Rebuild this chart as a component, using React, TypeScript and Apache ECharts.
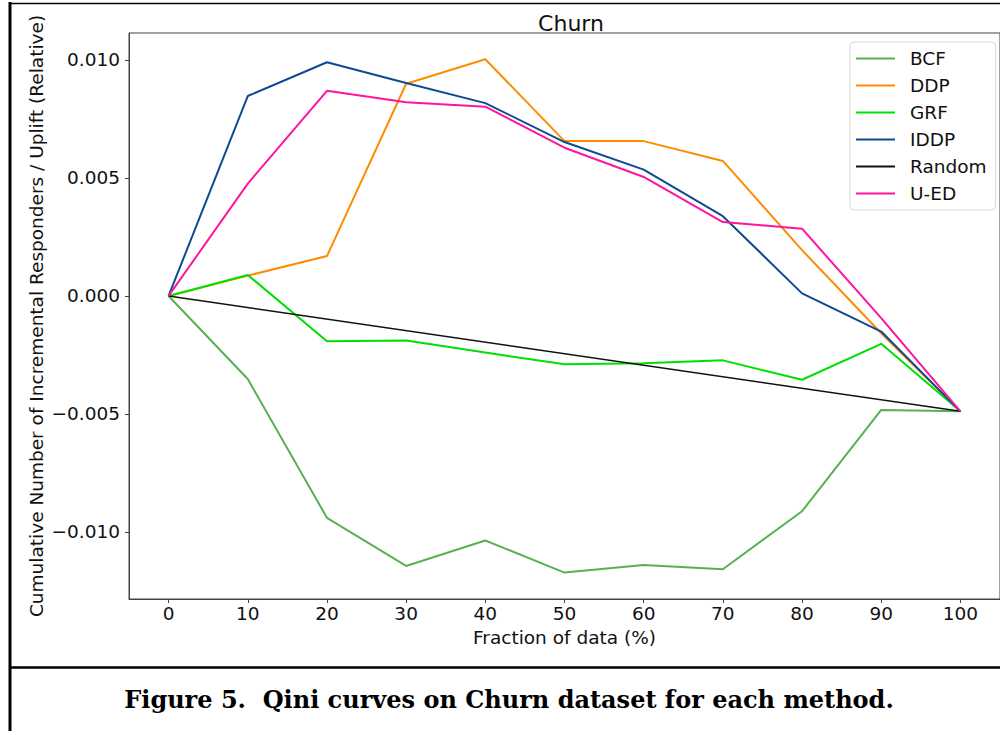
import React, { useEffect, useRef } from "react";
import * as echarts from "echarts";

const fractions = [0, 10, 20, 30, 40, 50, 60, 70, 80, 90, 100];
const bcf = [0, -0.00352, -0.0094, -0.01144, -0.01036, -0.01172, -0.0114, -0.01158, -0.00912, -0.00483, -0.00489];
const ddp = [0, 0.00086, 0.00169, 0.00899, 0.01003, 0.00656, 0.00656, 0.00572, 0.00194, -0.00158, -0.00489];
const grf = [0, 0.00089, -0.00192, -0.00189, -0.0024, -0.00289, -0.00285, -0.00273, -0.00355, -0.00203, -0.00489];
const iddp = [0, 0.00847, 0.0099, 0.00902, 0.00817, 0.00652, 0.00535, 0.00338, 0.00011, -0.00151, -0.00489];
const randomX = [0, 100];
const randomY = [0, -0.00489];
const ued = [0, 0.00476, 0.00869, 0.00821, 0.00802, 0.00628, 0.00504, 0.00313, 0.00285, -0.00094, -0.00489];

const xTicks = [0, 10, 20, 30, 40, 50, 60, 70, 80, 90, 100];
const yTicks = [-0.01, -0.005, 0, 0.005, 0.01];

const names = ["BCF", "DDP", "GRF", "IDDP", "Random", "U-ED"];
const colors = ["#58b150", "#ff8c00", "#00e000", "#0d4a91", "#111111", "#ff14a0"];

const pair = (xs: number[], ys: number[]) => xs.map((x, i) => [x, ys[i]]);

export default function App() {
  const ref = useRef<HTMLDivElement>(null);
  useEffect(() => {
    if (!ref.current) return;
    const chart = echarts.init(ref.current, undefined, { renderer: "svg" });
    const seriesData = [
      pair(fractions, bcf),
      pair(fractions, ddp),
      pair(fractions, grf),
      pair(fractions, iddp),
      pair(randomX, randomY),
      pair(fractions, ued),
    ];
    const font = "'DejaVu Sans', sans-serif";
    const fs = 18.5;
    chart.setOption({
      animation: false,
      backgroundColor: "#ffffff",
      title: {
        text: "Churn",
        left: 566,
        top: 7,
        textAlign: "center",
        textStyle: { fontFamily: font, fontSize: 22, fontWeight: "normal", color: "#111" },
      },
      grid: {
        left: 129,
        top: 33,
        width: 875,
        height: 566,
        show: true,
        borderColor: "#444",
        borderWidth: 1,
        containLabel: false,
      },
      legend: {
        orient: "vertical",
        left: 850,
        top: 42,
        data: names,
        icon: "rect",
        itemWidth: 39,
        itemHeight: 2,
        itemGap: 8,
        padding: [7, 9, 7, 6],
        backgroundColor: "#fff",
        borderColor: "#d8d8d8",
        borderWidth: 1,
        borderRadius: 4,
        textStyle: {
          fontFamily: font,
          fontSize: fs,
          lineHeight: 17,
          color: "#111",
          padding: [0, 0, 0, 10],
        },
      },
      xAxis: {
        type: "value",
        min: -5,
        max: 105,
        name: "Fraction of data (%)",
        nameLocation: "middle",
        nameGap: 27,
        nameTextStyle: { fontFamily: font, fontSize: fs, color: "#111", verticalAlign: "top" },
        splitLine: { show: false },
        axisLine: { show: true, onZero: false, lineStyle: { color: "#444", width: 1 } },
        axisTick: { show: true, customValues: xTicks, length: 4, lineStyle: { color: "#444" } },
        axisLabel: {
          customValues: xTicks,
          margin: 5,
          fontFamily: font,
          fontSize: fs,
          color: "#111",
        },
      },
      yAxis: {
        type: "value",
        min: -0.01284,
        max: 0.01114,
        name: "Cumulative Number of Incremental Responders / Uplift (Relative)",
        nameLocation: "middle",
        nameGap: 83,
        nameMoveOverlap: false,
        nameTextStyle: { fontFamily: font, fontSize: fs, color: "#111" },
        splitLine: { show: false },
        axisLine: { show: true, onZero: false, lineStyle: { color: "#444", width: 1 } },
        axisTick: { show: true, customValues: yTicks, length: 4, lineStyle: { color: "#444" } },
        axisLabel: {
          customValues: yTicks,
          margin: 9,
          fontFamily: font,
          fontSize: fs,
          color: "#111",
          formatter: (v: number) => {
            const s = Math.abs(v).toFixed(3);
            return v < -1e-9 ? "\u2212" + s : s;
          },
        },
      },
      series: names.map((n, i) => ({
        name: n,
        type: "line",
        data: seriesData[i],
        symbol: "none",
        showSymbol: false,
        lineStyle: { color: colors[i], width: n === "Random" ? 1.5 : 2 },
        itemStyle: { color: colors[i] },
        z: 2 + i,
      })),
      graphic: [
        { type: "line", shape: { x1: 10, y1: 2, x2: 10, y2: 731 }, style: { stroke: "#000", lineWidth: 3 } },
        { type: "line", shape: { x1: 9, y1: 3.5, x2: 1000, y2: 3.5 }, style: { stroke: "#000", lineWidth: 1.5 } },
        { type: "line", shape: { x1: 10, y1: 667.5, x2: 1000, y2: 667.5 }, style: { stroke: "#000", lineWidth: 2.5 } },
        {
          type: "text",
          x: 509,
          y: 699,
          style: {
            text: "Figure 5.  Qini curves on Churn dataset for each method.",
            font: "bold 24px 'DejaVu Serif', serif",
            fill: "#000",
            textAlign: "center",
            textVerticalAlign: "middle",
          },
        },
      ],
    });
    return () => chart.dispose();
  }, []);
  return (
    <div
      ref={ref}
      style={{ position: "fixed", left: 0, top: 0, width: 1000, height: 731, background: "#fff" }}
    />
  );
}
